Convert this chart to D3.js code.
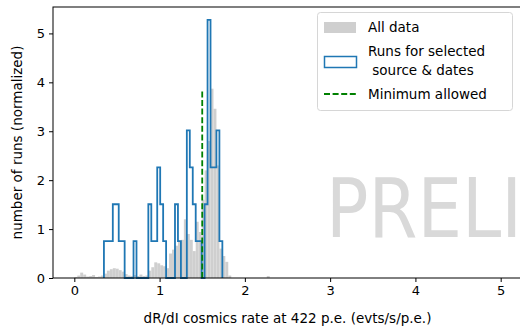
<!DOCTYPE html>
<html>
<head>
<meta charset="utf-8">
<script src="https://cdn.jsdelivr.net/npm/d3@7"></script>
<style>
  body { margin: 0; background: #fff; }
  svg { display: block; }
  text { font-family: "DejaVu Sans", sans-serif; }
</style>
</head>
<body>
<svg id="chart" width="520" height="327"></svg>
<script>
// Histogram binning shared by both distributions
const binRange = [0, 5];
const binCount = 144;

// "All data": normalized density per bin, starting at bin 0
const allDataDensity = [
  0.02, 0.05, 0.11, 0.07, 0.03, 0.04, 0.06, 0.02, 0.03, 0.05,
  0.09, 0.15, 0.18, 0.20, 0.19, 0.16, 0.13, 0.08, 0.05, 0.04,
  0.06, 0.04, 0.07, 0.04, 0.05, 0.15, 0.22, 0.32, 0.30, 0.26,
  0.24, 0.20, 0.50, 0.58, 0.66, 0.76, 0.78, 1.20, 0.90, 0.78,
  0.55, 1.15, 0.94, 1.60, 2.20, 2.80, 3.87, 3.46, 2.30, 0.60,
  0.45, 0.33, 0.05, 0, 0, 0, 0, 0, 0, 0,
  0, 0, 0, 0, 0, 0.04
];

// Selected runs: number of runs per bin, starting at bin 10
const selectedFirstBin = 10;
const selectedRunCounts = [
  1, 1, 1, 2, 2, 1, 1, 0, 0, 0,
  1, 0, 0, 0, 0, 2, 1, 1, 3, 2,
  1, 0, 0, 0, 2, 1, 0, 0, 4, 3,
  2, 1, 1, 0, 2, 7, 3, 3, 4, 1
];
// density contributed by a single run
const densityPerRun = 0.754;

const minimumAllowed = 1.5;

const xTicks = [0, 1, 2, 3, 4, 5];
const yTicks = [0, 1, 2, 3, 4, 5];
const xDomain = [-0.25, 5.25];
const yDomain = [0, 5.54];

const legendLabels = ["All data", "Runs for selected", " source & dates", "Minimum allowed"];
const watermark = "PRELIMINARY";
const xLabel = "dR/dI cosmics rate at 422 p.e. (evts/s/p.e.)";
const yLabel = "number of runs (normalized)";

const W = 520, H = 327;
const margin = { left: 53, right: -2, top: 7, bottom: 49 };

const svg = d3.select("#chart");

const x = d3.scaleLinear().domain(xDomain).range([margin.left, W - margin.right]);
const y = d3.scaleLinear().domain(yDomain).range([H - margin.bottom, margin.top]);

const binWidth = (binRange[1] - binRange[0]) / binCount;
const edge = i => binRange[0] + i * binWidth;

// watermark behind the data
svg.append("text")
  .attr("transform", "translate(326,237) scale(0.86,1)")
  .attr("font-size", 82)
  .attr("fill", "#d9d9d9")
  .text(watermark);

// gray bars for all data
svg.append("g")
  .selectAll("rect")
  .data(allDataDensity.map((v, i) => ({ i, v })).filter(d => d.v > 0))
  .join("rect")
  .attr("x", d => x(edge(d.i)))
  .attr("width", d => x(edge(d.i + 1)) - x(edge(d.i)))
  .attr("y", d => y(d.v))
  .attr("height", d => y(0) - y(d.v))
  .attr("fill", "#cfcfcf");

// step outline for selected runs
const stepPts = [];
stepPts.push([edge(selectedFirstBin), 0]);
selectedRunCounts.forEach((c, j) => {
  const i = selectedFirstBin + j;
  stepPts.push([edge(i), c * densityPerRun]);
  stepPts.push([edge(i + 1), c * densityPerRun]);
});
stepPts.push([edge(selectedFirstBin + selectedRunCounts.length), 0]);

svg.append("path")
  .attr("d", d3.line().x(d => x(d[0])).y(d => y(d[1]))(stepPts))
  .attr("fill", "none")
  .attr("stroke", "#1f77b4")
  .attr("stroke-width", 1.8)
  .attr("stroke-linejoin", "miter");

// threshold line, up to the highest bin of all data
svg.append("line")
  .attr("x1", x(minimumAllowed)).attr("x2", x(minimumAllowed))
  .attr("y1", y(0)).attr("y2", y(d3.max(allDataDensity)))
  .attr("stroke", "#008000")
  .attr("stroke-width", 1.8)
  .attr("stroke-dasharray", "6,2.6");

// axes
const xAxis = d3.axisBottom(x).tickValues(xTicks).tickFormat(d3.format("d")).tickSize(4).tickPadding(4);
const yAxis = d3.axisLeft(y).tickValues(yTicks).tickFormat(d3.format("d")).tickSize(4).tickPadding(4);

const gx = svg.append("g").attr("transform", `translate(0,${y(0)})`).call(xAxis);
const gy = svg.append("g").attr("transform", `translate(${x(xDomain[0])},0)`).call(yAxis);
[gx, gy].forEach(g => {
  g.select(".domain").remove();
  g.selectAll("text").attr("font-size", 13).attr("fill", "#000").attr("font-family", "DejaVu Sans, sans-serif");
  g.selectAll("line").attr("stroke", "#000").attr("stroke-width", 1);
});

// frame
svg.append("rect")
  .attr("x", x(xDomain[0])).attr("y", y(yDomain[1]))
  .attr("width", x(xDomain[1]) - x(xDomain[0]))
  .attr("height", y(0) - y(yDomain[1]))
  .attr("fill", "none").attr("stroke", "#000").attr("stroke-width", 1);

// axis labels
svg.append("text")
  .attr("x", (x(xDomain[0]) + x(xDomain[1])) / 2)
  .attr("y", 323)
  .attr("text-anchor", "middle")
  .attr("font-size", 13.5)
  .text(xLabel);

svg.append("text")
  .attr("transform", `translate(22,${(y(0) + y(yDomain[1])) / 2}) rotate(-90)`)
  .attr("text-anchor", "middle")
  .attr("font-size", 13.5)
  .text(yLabel);

// legend
const lg = svg.append("g");
lg.append("rect")
  .attr("x", 317.5).attr("y", 12.5).attr("width", 195).attr("height", 98)
  .attr("rx", 3)
  .attr("fill", "#fff").attr("fill-opacity", 0.8)
  .attr("stroke", "#d6d6d6");
lg.append("rect").attr("x", 324).attr("y", 22).attr("width", 32).attr("height", 11).attr("fill", "#cfcfcf");
lg.append("rect").attr("x", 324.5).attr("y", 56.5).attr("width", 32).attr("height", 11)
  .attr("fill", "none").attr("stroke", "#1f77b4").attr("stroke-width", 1.5);
lg.append("line").attr("x1", 324).attr("x2", 356).attr("y1", 94).attr("y2", 94)
  .attr("stroke", "#008000").attr("stroke-width", 1.8).attr("stroke-dasharray", "6,2.6");
const legendY = [32, 56, 75, 99];
legendLabels.forEach((t, i) => {
  lg.append("text")
    .attr("x", 368).attr("y", legendY[i])
    .attr("font-size", 13.5)
    .attr("xml:space", "preserve")
    .style("white-space", "pre")
    .text(t);
});
</script>
</body>
</html>
